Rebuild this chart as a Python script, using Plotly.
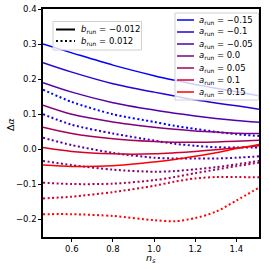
import plotly.graph_objects as go

ns = [0.46, 0.6, 0.8, 1.0, 1.1, 1.2, 1.3, 1.4, 1.51]
a_labels = ["−0.15", "−0.1", "−0.05", "0.0", "0.05", "0.1", "0.15"]
b_labels = ["−0.012", "0.012"]

# b_run = -0.012 (solid)
solid_m015 = [0.300, 0.275, 0.240, 0.210, 0.197, 0.185, 0.174, 0.164, 0.153]
solid_m010 = [0.247, 0.220, 0.187, 0.163, 0.152, 0.141, 0.132, 0.124, 0.114]
solid_m005 = [0.190, 0.163, 0.133, 0.112, 0.103, 0.095, 0.088, 0.082, 0.077]
solid_p000 = [0.126, 0.100, 0.078, 0.063, 0.057, 0.052, 0.049, 0.046, 0.045]
solid_p005 = [0.063, 0.045, 0.030, 0.022, 0.020, 0.020, 0.021, 0.023, 0.026]
solid_p010 = [0.005, -0.006, -0.013, -0.013, -0.010, -0.006, -0.001, 0.004, 0.010]
solid_p015 = [-0.045, -0.049, -0.047, -0.036, -0.029, -0.020, -0.010, 0.002, 0.014]

# b_run = 0.012 (dotted)
dot_m015 = [0.170, 0.135, 0.100, 0.078, 0.067, 0.058, 0.050, 0.043, 0.038]
dot_m010 = [0.100, 0.070, 0.045, 0.025, 0.016, 0.010, 0.006, 0.005, 0.005]
dot_m005 = [0.033, 0.012, -0.010, -0.024, -0.026, -0.026, -0.026, -0.024, -0.020]
dot_p000 = [-0.033, -0.045, -0.058, -0.064, -0.062, -0.057, -0.051, -0.043, -0.033]
dot_p005 = [-0.095, -0.099, -0.098, -0.088, -0.079, -0.068, -0.058, -0.048, -0.038]
dot_p010 = [-0.140, -0.135, -0.122, -0.104, -0.092, -0.083, -0.079, -0.079, -0.080]
dot_p015 = [-0.185, -0.185, -0.190, -0.202, -0.205, -0.196, -0.178, -0.146, -0.109]

solids = [solid_m015, solid_m010, solid_m005, solid_p000, solid_p005, solid_p010, solid_p015]
dots = [dot_m015, dot_m010, dot_m005, dot_p000, dot_p005, dot_p010, dot_p015]

DOT = "2px,2.5px"

def color(i, n=7):
    t = i / (n - 1)
    return "rgb(%d,0,%d)" % (round(255 * t), round(255 * (1 - t)))

fig = go.Figure()
for i, ys in enumerate(dots):
    fig.add_trace(go.Scatter(x=ns, y=ys, mode="lines",
                             line=dict(color=color(i), width=2, dash=DOT, shape="spline", smoothing=0.8),
                             showlegend=False, hoverinfo="skip"))
for i, ys in enumerate(solids):
    fig.add_trace(go.Scatter(x=ns, y=ys, mode="lines",
                             line=dict(color=color(i), width=1.5, shape="spline", smoothing=0.8),
                             showlegend=False, hoverinfo="skip"))

# ---- manual legends (paper coords) ----
L, R, T, B = 43, 259, 9, 237

def px_x(px):
    return (px - L) / float(R - L)

def px_y(py):
    return (B - py) / float(B - T)

shapes = []
annotations = []

# legend for b_run (top-left)
shapes.append(dict(type="rect", xref="paper", yref="paper",
                   x0=px_x(53), x1=px_x(141.5), y0=px_y(50), y1=px_y(21.5),
                   line=dict(color="#d0d0d0", width=1), fillcolor="rgba(255,255,255,0.8)", layer="above"))
for j, lab in enumerate(b_labels):
    py = 29.5 + 11.5 * j
    shapes.append(dict(type="line", xref="paper", yref="paper",
                       x0=px_x(56), x1=px_x(75), y0=px_y(py), y1=px_y(py),
                       line=dict(color="black", width=2, dash="solid" if j == 0 else DOT), layer="above"))
    annotations.append(dict(xref="paper", yref="paper", x=px_x(79), y=px_y(py), xanchor="left", yanchor="middle",
                            showarrow=False, text="<i>b</i><sub>run</sub> = " + lab,
                            font=dict(size=8.5, color="black")))

# legend for a_run (top-right)
shapes.append(dict(type="rect", xref="paper", yref="paper",
                   x0=px_x(175), x1=px_x(258.5), y0=px_y(100), y1=px_y(13),
                   line=dict(color="#d0d0d0", width=1), fillcolor="rgba(255,255,255,0.8)", layer="above"))
for i, lab in enumerate(a_labels):
    py = 20 + 12 * i
    shapes.append(dict(type="line", xref="paper", yref="paper",
                       x0=px_x(177), x1=px_x(194), y0=px_y(py), y1=px_y(py),
                       line=dict(color=color(i), width=1.5), layer="above"))
    annotations.append(dict(xref="paper", yref="paper", x=px_x(197), y=px_y(py), xanchor="left", yanchor="middle",
                            showarrow=False, text="<i>a</i><sub>run</sub> = " + lab,
                            font=dict(size=8.5, color="black")))

# axis titles
annotations.append(dict(xref="paper", yref="paper", x=px_x(151), y=px_y(258), xanchor="center", yanchor="middle",
                        showarrow=False, text="<i>n<sub>s</sub></i>", font=dict(size=9.5, color="black")))
annotations.append(dict(xref="paper", yref="paper", x=px_x(10), y=px_y(124), xanchor="center", yanchor="middle",
                        showarrow=False, textangle=-90, text="Δ<i>α</i>", font=dict(size=9.5, color="black")))

axis_common = dict(showline=True, linecolor="black", linewidth=1.5, mirror=True, ticks="outside",
                   ticklen=3, tickwidth=1, tickcolor="black", showgrid=False, zeroline=False,
                   automargin=False, tickfont=dict(size=8.5, color="black"))

fig.update_layout(
    width=269, height=269,
    margin=dict(l=L, r=269 - R, t=T, b=269 - B, autoexpand=False),
    plot_bgcolor="white", paper_bgcolor="white",
    font=dict(family="DejaVu Sans", size=8.5, color="black"),
    showlegend=False,
    shapes=shapes,
    annotations=annotations,
    xaxis=dict(range=[0.46, 1.51], tickvals=[0.6, 0.8, 1.0, 1.2, 1.4], tickformat=".1f", **axis_common),
    yaxis=dict(range=[-0.25, 0.4], tickvals=[-0.2, -0.1, 0.0, 0.1, 0.2, 0.3, 0.4], tickformat=".1f",
               **axis_common),
)

fig.write_html("out.html", config={"displayModeBar": False},
               post_script="document.body.style.margin='0';document.body.style.overflow='hidden';")
